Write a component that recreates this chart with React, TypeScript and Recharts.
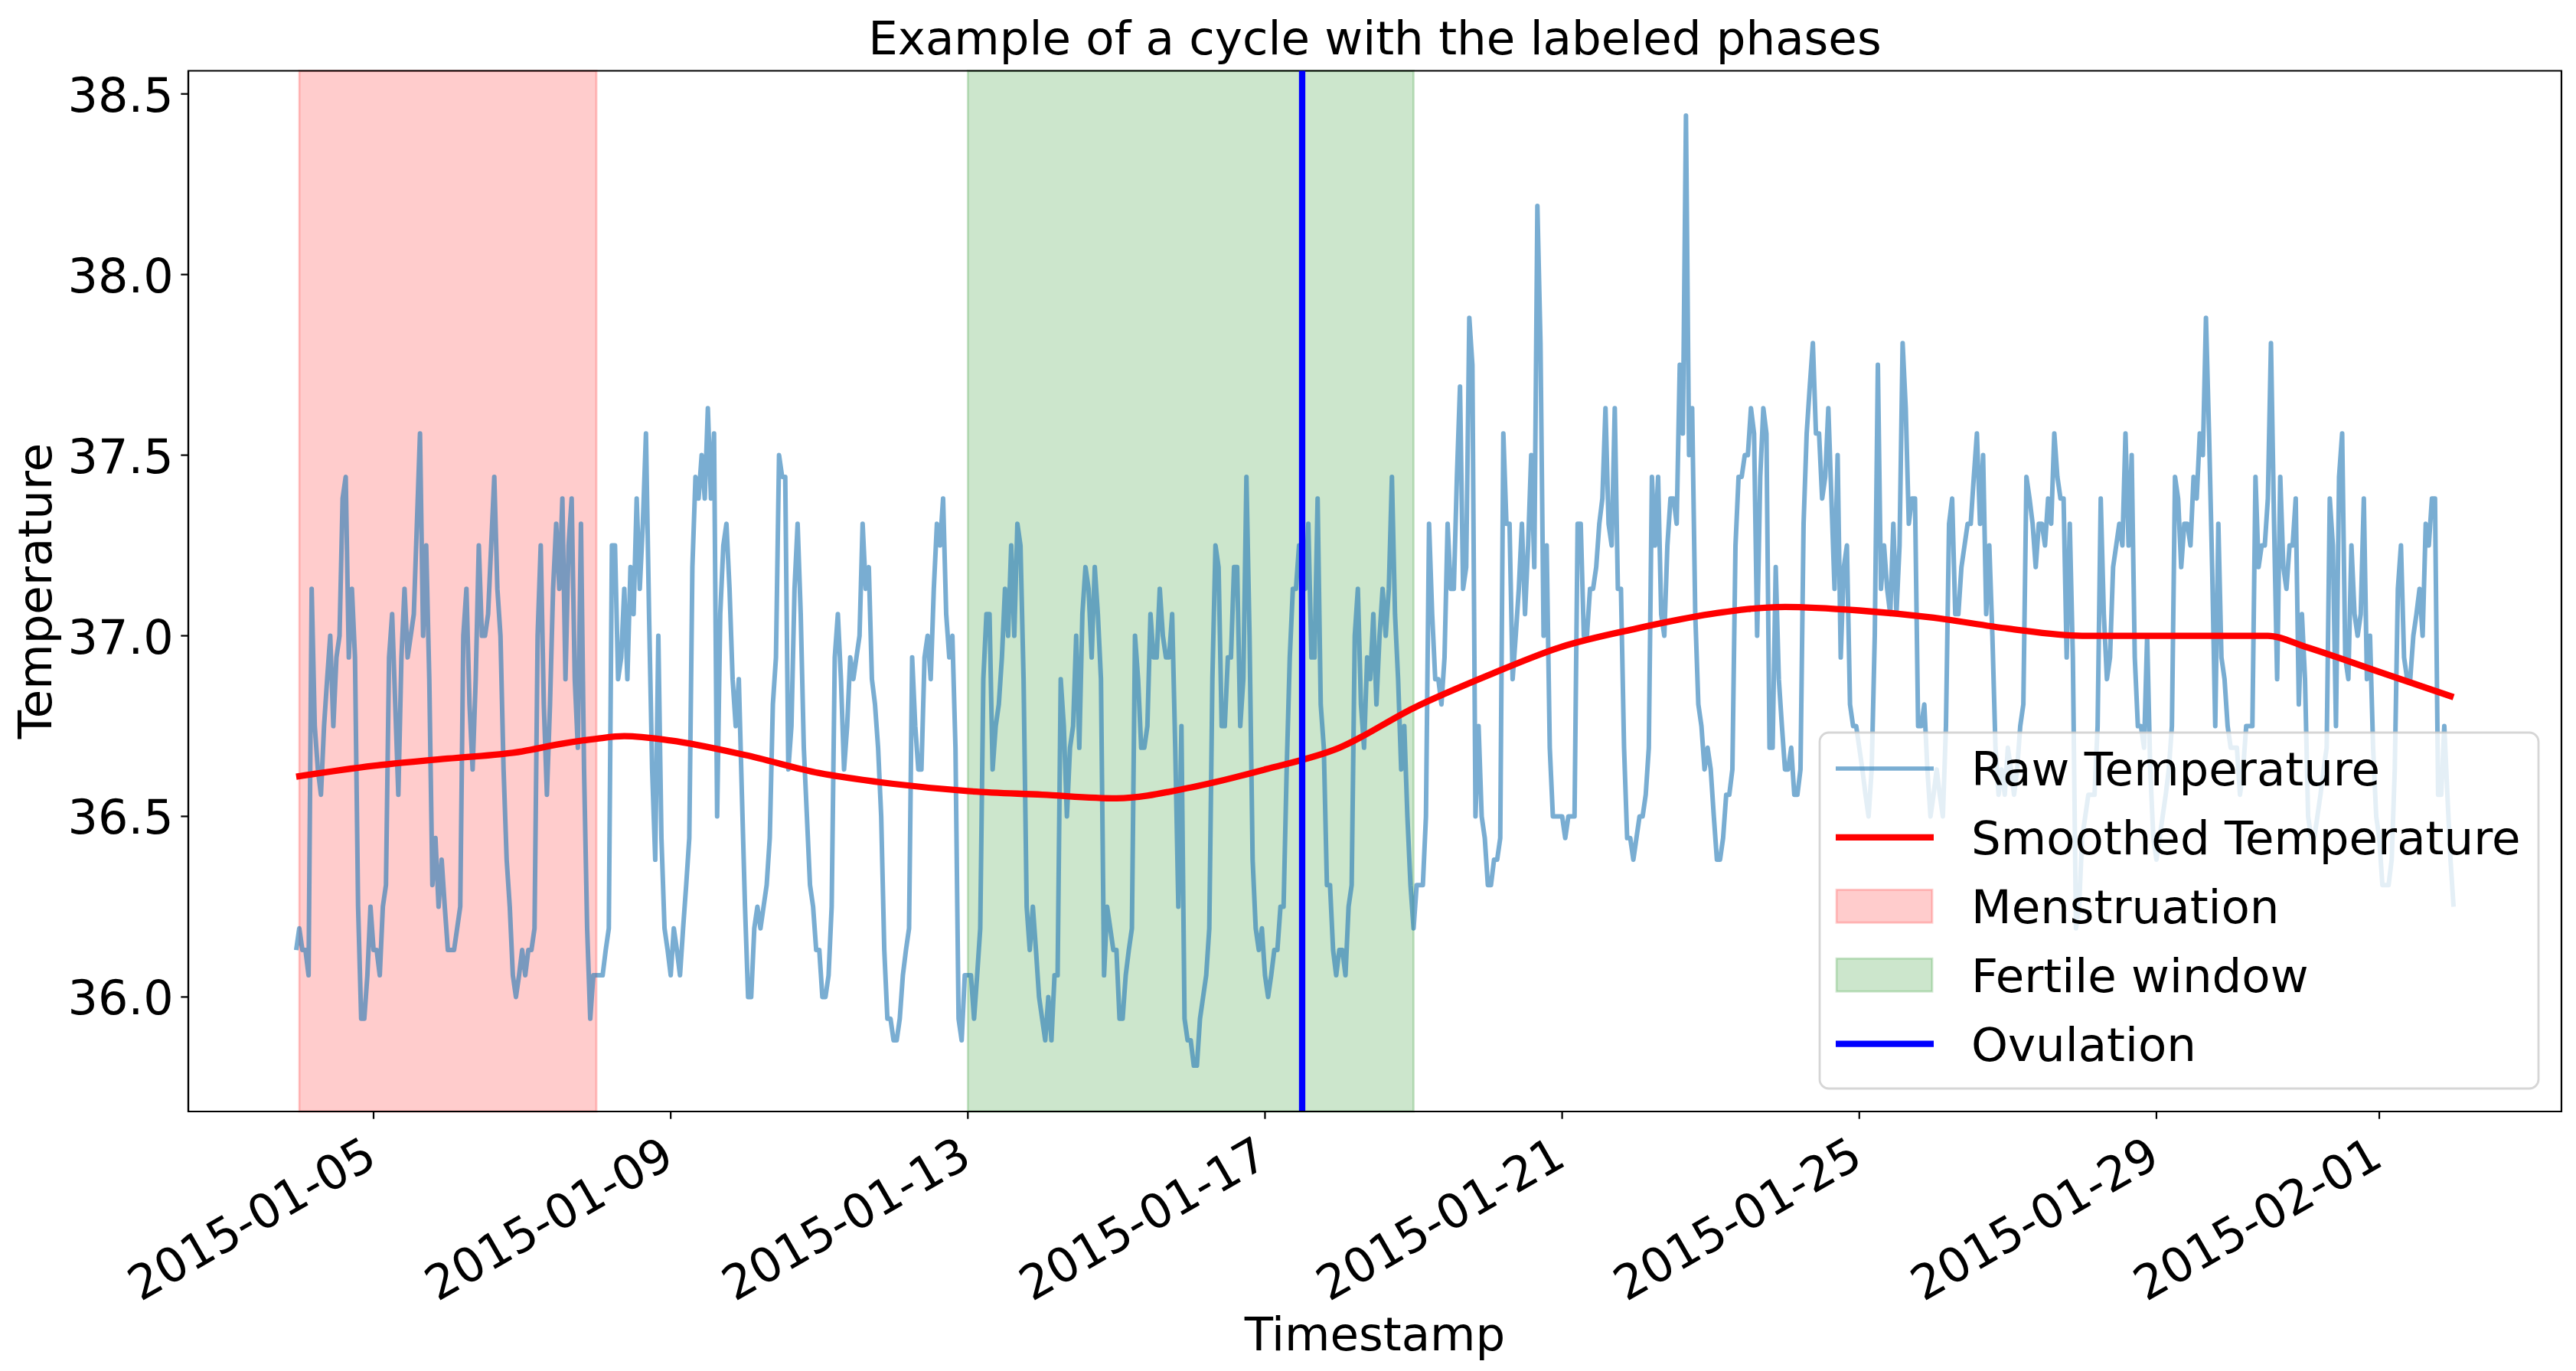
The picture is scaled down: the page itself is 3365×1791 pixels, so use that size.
import React from 'react';
import { LineChart, Line, XAxis, YAxis, ReferenceArea, ReferenceLine } from 'recharts';

// ---------------- data ----------------
const HOUR = 3600000;
const rawStartIso = '2015-01-03T23:00:00Z'; // first reading, then one reading per hour

const rawJan03 = [36.13];
const rawJan04 = [36.19, 36.13, 36.13, 36.06, 37.13, 36.75, 36.63, 36.56, 36.75, 36.88, 37.0, 36.75, 36.94, 37.0, 37.38, 37.44, 36.94, 37.13, 36.94, 36.25, 35.94, 35.94, 36.06, 36.25];
const rawJan05 = [36.13, 36.13, 36.06, 36.25, 36.31, 36.94, 37.06, 36.81, 36.56, 36.94, 37.13, 36.94, 37.0, 37.06, 37.31, 37.56, 37.0, 37.25, 36.88, 36.31, 36.44, 36.25, 36.38, 36.25];
const rawJan06 = [36.13, 36.13, 36.13, 36.19, 36.25, 37.0, 37.13, 36.81, 36.63, 36.88, 37.25, 37.0, 37.0, 37.06, 37.25, 37.44, 37.13, 37.0, 36.63, 36.38, 36.25, 36.06, 36.0, 36.06];
const rawJan07 = [36.13, 36.06, 36.13, 36.13, 36.19, 37.0, 37.25, 36.81, 36.56, 36.81, 37.13, 37.31, 37.13, 37.38, 36.88, 37.25, 37.38, 36.88, 36.69, 37.31, 36.63, 36.19, 35.94, 36.06];
const rawJan08 = [36.06, 36.06, 36.06, 36.13, 36.19, 37.25, 37.25, 36.88, 36.94, 37.13, 36.88, 37.19, 37.06, 37.38, 37.13, 37.31, 37.56, 37.06, 36.63, 36.38, 37.0, 36.44, 36.19, 36.13];
const rawJan09 = [36.06, 36.19, 36.13, 36.06, 36.19, 36.31, 36.44, 37.19, 37.44, 37.38, 37.5, 37.38, 37.63, 37.38, 37.56, 36.5, 37.06, 37.25, 37.31, 37.13, 36.88, 36.75, 36.88, 36.56];
const rawJan10 = [36.25, 36.0, 36.0, 36.19, 36.25, 36.19, 36.25, 36.31, 36.44, 36.81, 36.94, 37.5, 37.44, 37.44, 36.63, 36.75, 37.13, 37.31, 37.06, 36.69, 36.5, 36.31, 36.25, 36.13];
const rawJan11 = [36.13, 36.0, 36.0, 36.06, 36.25, 36.94, 37.06, 36.88, 36.63, 36.75, 36.94, 36.88, 36.94, 37.0, 37.31, 37.13, 37.19, 36.88, 36.81, 36.69, 36.5, 36.13, 35.94, 35.94];
const rawJan12 = [35.88, 35.88, 35.94, 36.06, 36.13, 36.19, 36.94, 36.75, 36.63, 36.63, 36.94, 37.0, 36.88, 37.13, 37.31, 37.25, 37.38, 37.06, 36.94, 37.0, 36.69, 35.94, 35.88, 36.06];
const rawJan13 = [36.06, 36.06, 35.94, 36.06, 36.19, 36.88, 37.06, 37.06, 36.63, 36.75, 36.81, 36.94, 37.13, 37.0, 37.25, 37.0, 37.31, 37.25, 36.88, 36.25, 36.13, 36.25, 36.13, 36.0];
const rawJan14 = [35.94, 35.88, 36.0, 35.88, 36.06, 36.06, 36.88, 36.75, 36.5, 36.69, 36.75, 37.0, 36.69, 37.06, 37.19, 37.13, 36.94, 37.19, 37.06, 36.88, 36.06, 36.25, 36.19, 36.13];
const rawJan15 = [36.13, 35.94, 35.94, 36.06, 36.13, 36.19, 37.0, 36.88, 36.69, 36.69, 36.75, 37.06, 36.94, 36.94, 37.13, 37.0, 36.94, 36.94, 37.06, 36.69, 36.25, 36.75, 35.94, 35.88];
const rawJan16 = [35.88, 35.81, 35.81, 35.94, 36.0, 36.06, 36.19, 36.88, 37.25, 37.19, 36.75, 36.75, 36.94, 36.94, 37.19, 37.19, 36.75, 36.88, 37.44, 37.0, 36.38, 36.19, 36.13, 36.19];
const rawJan17 = [36.06, 36.0, 36.06, 36.13, 36.13, 36.25, 36.25, 36.63, 36.94, 37.13, 37.13, 37.25, 37.25, 37.13, 37.31, 36.94, 36.94, 37.38, 36.81, 36.69, 36.31, 36.31, 36.13, 36.06];
const rawJan18 = [36.13, 36.13, 36.06, 36.25, 36.31, 37.0, 37.13, 36.81, 36.69, 36.94, 36.88, 37.06, 36.81, 37.0, 37.13, 37.0, 37.13, 37.44, 37.06, 36.88, 36.63, 36.75, 36.5, 36.31];
const rawJan19 = [36.19, 36.31, 36.31, 36.31, 36.5, 37.31, 37.06, 36.88, 36.88, 36.81, 36.94, 37.31, 37.13, 37.13, 37.44, 37.69, 37.13, 37.19, 37.88, 37.75, 36.5, 36.75, 36.5, 36.44];
const rawJan20 = [36.31, 36.31, 36.38, 36.38, 36.44, 37.56, 37.31, 37.31, 36.88, 37.0, 37.13, 37.31, 37.06, 37.25, 37.5, 37.19, 38.19, 37.81, 37.0, 37.25, 36.69, 36.5, 36.5, 36.5];
const rawJan21 = [36.5, 36.44, 36.5, 36.5, 36.5, 37.31, 37.31, 37.0, 37.0, 37.13, 37.13, 37.19, 37.31, 37.38, 37.63, 37.31, 37.25, 37.63, 37.13, 37.13, 36.69, 36.44, 36.44, 36.38];
const rawJan22 = [36.44, 36.5, 36.5, 36.56, 36.69, 37.44, 37.25, 37.44, 37.06, 37.0, 37.25, 37.38, 37.38, 37.31, 37.75, 37.56, 38.44, 37.5, 37.63, 37.06, 36.81, 36.75, 36.63, 36.69];
const rawJan23 = [36.63, 36.5, 36.38, 36.38, 36.44, 36.56, 36.56, 36.63, 37.25, 37.44, 37.44, 37.5, 37.5, 37.63, 37.56, 37.0, 37.44, 37.63, 37.56, 36.69, 36.69, 37.19, 36.88, 36.75];
const rawJan24 = [36.63, 36.63, 36.69, 36.56, 36.56, 36.63, 37.31, 37.56, 37.69, 37.81, 37.56, 37.56, 37.38, 37.44, 37.63, 37.38, 37.13, 37.5, 36.94, 37.19, 37.25, 36.81, 36.75, 36.75];
const rawJan25 = [36.69, 36.63, 36.56, 36.5, 36.63, 37.0, 37.75, 37.13, 37.25, 37.13, 37.06, 37.31, 37.06, 37.25, 37.81, 37.63, 37.31, 37.38, 37.38, 36.75, 36.75, 36.81, 36.63, 36.5];
const rawJan26 = [36.56, 36.63, 36.56, 36.5, 36.75, 37.31, 37.38, 37.06, 37.06, 37.19, 37.25, 37.31, 37.31, 37.44, 37.56, 37.31, 37.5, 37.06, 37.25, 37.0, 36.69, 36.56, 36.63, 36.56];
const rawJan27 = [36.69, 36.63, 36.56, 36.63, 36.75, 36.81, 37.44, 37.38, 37.31, 37.19, 37.31, 37.31, 37.25, 37.38, 37.31, 37.56, 37.44, 37.38, 37.38, 36.94, 37.31, 36.94, 36.19, 36.25];
const rawJan28 = [36.44, 36.5, 36.56, 36.56, 36.56, 36.75, 37.38, 37.06, 36.88, 36.94, 37.19, 37.25, 37.31, 37.25, 37.56, 37.25, 37.5, 36.94, 36.75, 36.75, 36.69, 37.0, 36.63, 36.44];
const rawJan29 = [36.38, 36.44, 36.5, 36.56, 36.63, 36.75, 37.44, 37.38, 37.19, 37.31, 37.31, 37.25, 37.44, 37.38, 37.56, 37.5, 37.88, 37.56, 37.19, 36.75, 37.31, 36.94, 36.88, 36.75];
const rawJan30 = [36.69, 36.69, 36.69, 36.56, 36.63, 36.75, 36.75, 36.75, 37.44, 37.19, 37.25, 37.25, 37.38, 37.81, 37.31, 36.88, 37.44, 37.19, 37.13, 37.25, 37.25, 37.38, 36.81, 37.06];
const rawJan31 = [36.88, 36.5, 36.44, 36.44, 36.5, 36.56, 36.63, 36.69, 37.38, 37.25, 36.75, 37.44, 37.56, 36.94, 36.88, 37.25, 37.06, 37.0, 37.06, 37.38, 36.88, 37.0, 36.69, 36.5];
const rawFeb01 = [36.44, 36.31, 36.31, 36.31, 36.38, 36.63, 37.13, 37.25, 36.94, 36.88, 36.88, 37.0, 37.06, 37.13, 37.0, 37.31, 37.25, 37.38, 37.38, 36.56, 36.56, 36.75, 36.56, 36.38];
const rawFeb02 = [36.25];

const rawValues = [
  ...rawJan03, ...rawJan04, ...rawJan05, ...rawJan06, ...rawJan07, ...rawJan08, ...rawJan09,
  ...rawJan10, ...rawJan11, ...rawJan12, ...rawJan13, ...rawJan14, ...rawJan15, ...rawJan16,
  ...rawJan17, ...rawJan18, ...rawJan19, ...rawJan20, ...rawJan21, ...rawJan22, ...rawJan23,
  ...rawJan24, ...rawJan25, ...rawJan26, ...rawJan27, ...rawJan28, ...rawJan29, ...rawJan30,
  ...rawJan31, ...rawFeb01, ...rawFeb02,
];

const smoothDates = [
  '2015-01-03T23:00:00Z', '2015-01-05T00:00:00Z', '2015-01-06T00:00:00Z', '2015-01-07T00:00:00Z',
  '2015-01-07T12:00:00Z', '2015-01-08T00:00:00Z', '2015-01-08T09:00:00Z', '2015-01-09T00:00:00Z',
  '2015-01-10T00:00:00Z', '2015-01-11T00:00:00Z', '2015-01-12T00:00:00Z', '2015-01-13T00:00:00Z',
  '2015-01-14T00:00:00Z', '2015-01-15T00:00:00Z', '2015-01-16T00:00:00Z', '2015-01-17T00:00:00Z',
  '2015-01-18T00:00:00Z', '2015-01-19T00:00:00Z', '2015-01-20T00:00:00Z', '2015-01-21T00:00:00Z',
  '2015-01-22T00:00:00Z', '2015-01-23T00:00:00Z', '2015-01-24T00:00:00Z', '2015-01-25T00:00:00Z',
  '2015-01-26T00:00:00Z', '2015-01-27T00:00:00Z', '2015-01-28T00:00:00Z', '2015-01-29T00:00:00Z',
  '2015-01-30T00:00:00Z', '2015-01-30T12:00:00Z', '2015-01-31T00:00:00Z', '2015-02-01T00:00:00Z',
  '2015-02-02T00:00:00Z',
];
const smoothValues = [
  36.61, 36.64, 36.66, 36.68,
  36.70, 36.715, 36.722, 36.71,
  36.67, 36.62, 36.59, 36.57,
  36.56, 36.55, 36.58, 36.63,
  36.69, 36.80, 36.89, 36.97,
  37.02, 37.06, 37.08, 37.07,
  37.05, 37.02, 37.00, 37.00,
  37.00, 37.00, 36.97, 36.90,
  36.83,
];

const menstruation = ['2015-01-04T00:00:00Z', '2015-01-08T00:00:00Z'];
const fertileWindow = ['2015-01-13T00:00:00Z', '2015-01-19T00:00:00Z'];
const ovulation = '2015-01-17T12:00:00Z';

const xTickDates = ['2015-01-05', '2015-01-09', '2015-01-13', '2015-01-17', '2015-01-21', '2015-01-25', '2015-01-29', '2015-02-01'];
const yTicks = [36.0, 36.5, 37.0, 37.5, 38.0, 38.5];
const yDomain = [35.683, 38.564];

// ---------------- derived ----------------
const ms = (iso: string) => new Date(iso).getTime();
const rawStart = ms(rawStartIso);
const rawData = rawValues.map((v, i) => ({ t: rawStart + i * HOUR, raw: v }));
const smoothData = smoothDates.map((d, i) => ({ t: ms(d), smooth: smoothValues[i] }));
const tMin = rawData[0].t;
const tMax = rawData[rawData.length - 1].t;
const tPad = (tMax - tMin) * 0.05;
const xDomain = [tMin - tPad, tMax + tPad];
const xTicks = xTickDates.map((d) => ms(d + 'T00:00:00Z'));

const FONT = 'DejaVu Sans';
const W = 3365;
const H = 1791;

const XTick = (props: any) => {
  const { x, payload } = props;
  const label = new Date(payload.value).toISOString().slice(0, 10);
  return (
    <g transform={`translate(${x - 16},1480) rotate(-30)`}>
      <text x={0} y={47} textAnchor="end" fontFamily={FONT} fontSize={62} fill="#000">
        {label}
      </text>
    </g>
  );
};

const YTick = (props: any) => {
  const { y, payload } = props;
  return (
    <text x={226.6} y={y + 23} textAnchor="end" fontFamily={FONT} fontSize={62} fill="#000">
      {Number(payload.value).toFixed(1)}
    </text>
  );
};

const LEG_X = 2377;
const LEG_Y = 957;
const ROW0 = 1004;
const ROW_STEP = 89.9;
const HANDLE_X1 = 2398;
const HANDLE_X2 = 2526;
const TEXT_X = 2575;

export default function App() {
  const rows = [0, 1, 2, 3, 4].map((i) => ROW0 + i * ROW_STEP);
  return (
    <div style={{ position: 'absolute', left: 0, top: 0, width: W, height: H, background: '#fff' }}>
      <LineChart width={W} height={H} margin={{ top: 92.5, right: 19, bottom: 0, left: 0 }}>
        <ReferenceArea
          x1={ms(menstruation[0])}
          x2={ms(menstruation[1])}
          fill="#ff0000"
          fillOpacity={0.2}
          stroke="#ff0000"
          strokeOpacity={0.2}
          strokeWidth={2.8}
        />
        <ReferenceArea
          x1={ms(fertileWindow[0])}
          x2={ms(fertileWindow[1])}
          fill="#008000"
          fillOpacity={0.2}
          stroke="#008000"
          strokeOpacity={0.2}
          strokeWidth={2.8}
        />
        <XAxis
          dataKey="t"
          type="number"
          domain={xDomain}
          allowDataOverflow
          ticks={xTicks}
          interval={0}
          height={339}
          tick={<XTick />}
          tickSize={9.7}
          tickLine={{ stroke: '#000', strokeWidth: 2.2 }}
          axisLine={{ stroke: '#000', strokeWidth: 2.2 }}
        />
        <YAxis
          type="number"
          domain={yDomain}
          allowDataOverflow
          ticks={yTicks}
          interval={0}
          width={246}
          tick={<YTick />}
          tickSize={9.7}
          tickLine={{ stroke: '#000', strokeWidth: 2.2 }}
          axisLine={{ stroke: '#000', strokeWidth: 2.2 }}
        />
        <Line
          data={rawData}
          dataKey="raw"
          type="linear"
          stroke="#1f77b4"
          strokeOpacity={0.6}
          strokeWidth={6}
          strokeLinejoin="round"
          dot={false}
          activeDot={false}
          isAnimationActive={false}
        />
        <Line
          data={smoothData}
          dataKey="smooth"
          type="monotone"
          stroke="#ff0000"
          strokeWidth={8.3}
          dot={false}
          activeDot={false}
          isAnimationActive={false}
        />
        <ReferenceLine x={ms(ovulation)} stroke="#0000ff" strokeWidth={8.3} />
        <ReferenceArea
          x1={xDomain[0]}
          x2={xDomain[1]}
          y1={yDomain[0]}
          y2={yDomain[1]}
          fill="none"
          stroke="#000"
          strokeWidth={2.2}
        />
      </LineChart>
      <svg
        width={W}
        height={H}
        style={{ position: 'absolute', left: 0, top: 0, pointerEvents: 'none' }}
      >
        <text x={1796} y={71} textAnchor="middle" fontFamily={FONT} fontSize={61} fill="#000">
          Example of a cycle with the labeled phases
        </text>
        <text x={1796} y={1764} textAnchor="middle" fontFamily={FONT} fontSize={61} fill="#000">
          Timestamp
        </text>
        <text
          transform="translate(67,772) rotate(-90)"
          textAnchor="middle"
          fontFamily={FONT}
          fontSize={61}
          fill="#000"
        >
          Temperature
        </text>
        <g>
          <rect
            x={LEG_X}
            y={LEG_Y}
            width={939}
            height={465}
            rx={12}
            ry={12}
            fill="#ffffff"
            fillOpacity={0.8}
            stroke="#cccccc"
            strokeOpacity={0.8}
            strokeWidth={2.8}
          />
          <line x1={HANDLE_X1} x2={HANDLE_X2} y1={rows[0]} y2={rows[0]} stroke="#1f77b4" strokeOpacity={0.6} strokeWidth={5.6} />
          <line x1={HANDLE_X1} x2={HANDLE_X2} y1={rows[1]} y2={rows[1]} stroke="#ff0000" strokeWidth={8.3} />
          <rect x={HANDLE_X1 + 1} y={rows[2] - 21.5} width={125} height={43} fill="#ff0000" fillOpacity={0.2} stroke="#ff0000" strokeOpacity={0.2} strokeWidth={2.8} />
          <rect x={HANDLE_X1 + 1} y={rows[3] - 21.5} width={125} height={43} fill="#008000" fillOpacity={0.2} stroke="#008000" strokeOpacity={0.2} strokeWidth={2.8} />
          <line x1={HANDLE_X1} x2={HANDLE_X2} y1={rows[4]} y2={rows[4]} stroke="#0000ff" strokeWidth={8.3} />
          {['Raw Temperature', 'Smoothed Temperature', 'Menstruation', 'Fertile window', 'Ovulation'].map((t, i) => (
            <text key={t} x={TEXT_X} y={rows[i] + 22} fontFamily={FONT} fontSize={61} fill="#000">
              {t}
            </text>
          ))}
        </g>
      </svg>
    </div>
  );
}
